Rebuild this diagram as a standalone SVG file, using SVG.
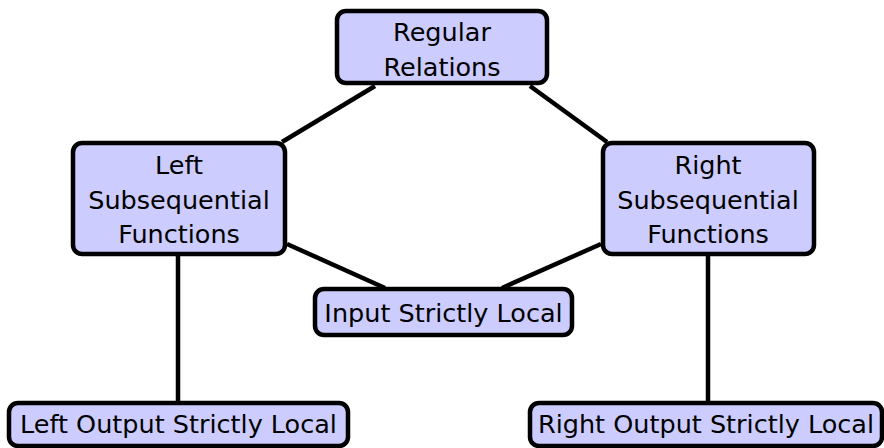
<svg xmlns="http://www.w3.org/2000/svg" width="884" height="448" viewBox="0 0 884 448">
<style>
.box{fill:#ccccff;stroke:#000;stroke-width:4.5}
.t{font-family:"DejaVu Sans","Liberation Sans",sans-serif;font-size:25.5px;fill:#000;text-anchor:middle}
.e{stroke:#000;stroke-width:4.5;fill:none}
</style>
<rect width="884" height="448" fill="#fff"/>
<g id="edges">
<line class="e" x1="375" y1="86" x2="282" y2="142"/>
<line class="e" x1="530" y1="86" x2="607" y2="142"/>
<line class="e" x1="287" y1="244" x2="385" y2="288"/>
<line class="e" x1="601" y1="244" x2="502" y2="288"/>
<line class="e" x1="178" y1="255" x2="178" y2="403"/>
<line class="e" x1="708" y1="255" x2="708" y2="403"/>
</g>
<g id="regular">
<rect class="box" x="337" y="11" width="210" height="72" rx="9"/>
<text class="t" x="442" y="41">Regular</text>
<text class="t" x="442" y="76">Relations</text>
</g>
<g id="leftsub">
<rect class="box" x="73" y="143" width="212" height="111" rx="9"/>
<text class="t" x="179" y="174">Left</text>
<text class="t" x="179" y="209">Subsequential</text>
<text class="t" x="179" y="243">Functions</text>
</g>
<g id="rightsub">
<rect class="box" x="603" y="143" width="211" height="111" rx="9"/>
<text class="t" x="708" y="174">Right</text>
<text class="t" x="708" y="209">Subsequential</text>
<text class="t" x="708" y="243">Functions</text>
</g>
<g id="isl">
<rect class="box" x="315" y="289" width="257" height="46" rx="9"/>
<text class="t" x="443.5" y="322">Input Strictly Local</text>
</g>
<g id="losl">
<rect class="box" x="9" y="403" width="339" height="43" rx="9"/>
<text class="t" x="178.5" y="433">Left Output Strictly Local</text>
</g>
<g id="rosl">
<rect class="box" x="530" y="403" width="352" height="43" rx="9"/>
<text class="t" x="706" y="433">Right Output Strictly Local</text>
</g>
</svg>
